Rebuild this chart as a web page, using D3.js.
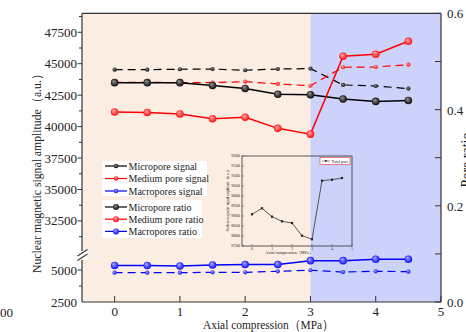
<!DOCTYPE html>
<html><head><meta charset="utf-8">
<script src="https://cdn.jsdelivr.net/npm/d3@7"></script>
<style>
html,body{margin:0;padding:0;background:#fff;}
svg{display:block;}
text{font-family:"Liberation Serif","Times New Roman",serif;fill:#222;}
</style></head>
<body>
<svg id="c" width="466" height="332"></svg>
<script>
// ---- data ----
const pressure = [0, 0.5, 1, 1.5, 2, 2.5, 3, 3.5, 4, 4.5];
const microSignal  = [44530, 44530, 44560, 44580, 44480, 44580, 44610, 43310, 43230, 43020];
const mediumSignal = [43520, 43520, 43500, 43500, 43570, 43390, 43250, 44720, 44740, 44920];
const macroSignal  = [4790, 4790, 4790, 4820, 4820, 4900, 4980, 4840, 4900, 4870];
const microRatio  = [0.456, 0.456, 0.456, 0.450, 0.444, 0.432, 0.431, 0.422, 0.417, 0.419];
const mediumRatio = [0.395, 0.394, 0.391, 0.381, 0.384, 0.361, 0.349, 0.511, 0.515, 0.542];
const macroRatio  = [0.076, 0.076, 0.075, 0.077, 0.078, 0.078, 0.086, 0.086, 0.089, 0.089];
const totalPore   = [89085, 89385, 88965, 88735, 88650, 88015, 87835, 90765, 90815, 90900];
const xTicks = [0, 1, 2, 3, 4, 5];
const upperTicks = [32500, 35000, 37500, 40000, 42500, 45000, 47500];
const upperMinor = [31250, 33750, 36250, 38750, 41250, 43750, 46250, 48750];
const lowerTicks = [2500, 5000];
const lowerMinor = [3750];
const ratioTicks = [0.0, 0.2, 0.4, 0.6];
const ratioMinor = [0.1, 0.3, 0.5];
const insetYTicks = [87500, 88000, 88500, 89000, 89500, 90000, 90500, 91000, 91500, 92000];
const legendSignal = ["Micropore signal", "Medium pore signal", "Macropores signal"];
const legendRatio = ["Micropore ratio", "Medium pore ratio", "Macropores ratio"];
const colors = ["#000000", "#ff0000", "#0000ff"];

// ---- scales ----
const svg = d3.select("#c");
const L = 82, R = 441, T = 13.4, B = 302;
const x = d3.scaleLinear().domain([-0.5, 5]).range([L, R]);
const yR = d3.scaleLinear().domain([0, 0.6]).range([B, T]);
const yU = d3.scaleLinear().domain([30000, 49000]).range([252.4, T]);
const yL = d3.scaleLinear().domain([2500, 6000]).range([B, 257.2]);
const ySig = v => v > 20000 ? yU(v) : yL(v);

// gradients for sphere markers
const defs = svg.append("defs");
const light = ["#9a9a9a", "#ffb3b3", "#b3b3ff"];
colors.forEach((c, i) => {
  const g = defs.append("radialGradient").attr("id", "sph" + i)
    .attr("cx", "50%").attr("cy", "50%").attr("r", "55%").attr("fx", "35%").attr("fy", "30%");
  g.append("stop").attr("offset", "0%").attr("stop-color", light[i]);
  g.append("stop").attr("offset", "100%").attr("stop-color", c);
});

// backgrounds
svg.append("rect").attr("x", x(-0.5)).attr("y", T).attr("width", x(3) - x(-0.5)).attr("height", B - T).attr("fill", "#fcede3");
svg.append("rect").attr("x", x(3)).attr("y", T).attr("width", x(5) - x(3)).attr("height", B - T).attr("fill", "#ccd2f9");

// ---- series ----
const pts = arr => arr.map((v, i) => [pressure[i], v]);
const sigLine = d3.line().x(d => x(d[0])).y(d => ySig(d[1]));
const ratLine = d3.line().x(d => x(d[0])).y(d => yR(d[1]));

[microSignal, mediumSignal, macroSignal].forEach((s, i) => {
  svg.append("path").attr("d", sigLine(pts(s))).attr("fill", "none")
    .attr("stroke", colors[i]).attr("stroke-width", 1.2).attr("stroke-dasharray", "8,5");
  svg.selectAll(null).data(pts(s)).enter().append("circle")
    .attr("cx", d => x(d[0])).attr("cy", d => ySig(d[1])).attr("r", 2.1)
    .attr("fill", "url(#sph" + i + ")");
});
[microRatio, mediumRatio, macroRatio].forEach((s, i) => {
  svg.append("path").attr("d", ratLine(pts(s))).attr("fill", "none")
    .attr("stroke", colors[i]).attr("stroke-width", 1.5);
  svg.selectAll(null).data(pts(s)).enter().append("circle")
    .attr("cx", d => x(d[0])).attr("cy", d => yR(d[1])).attr("r", 3.8)
    .attr("fill", "url(#sph" + i + ")");
});

// ---- frame & axes ----
const ax = "#333";
svg.append("line").attr("x1", L).attr("x2", R).attr("y1", T).attr("y2", T).attr("stroke", ax).attr("stroke-width", 1.2);
svg.append("line").attr("x1", L).attr("x2", R).attr("y1", B).attr("y2", B).attr("stroke", ax).attr("stroke-width", 1.2);
svg.append("line").attr("x1", R).attr("x2", R).attr("y1", T).attr("y2", B).attr("stroke", ax).attr("stroke-width", 1.2);
svg.append("line").attr("x1", L).attr("x2", L).attr("y1", T).attr("y2", 251).attr("stroke", ax).attr("stroke-width", 1.2);
svg.append("line").attr("x1", L).attr("x2", L).attr("y1", 260).attr("y2", B).attr("stroke", ax).attr("stroke-width", 1.2);
// break marks
svg.append("rect").attr("x", 77).attr("y", 251).attr("width", 11).attr("height", 9).attr("fill", "#fff");
svg.append("line").attr("x1", 77.5).attr("y1", 256).attr("x2", 87.5).attr("y2", 249.5).attr("stroke", ax).attr("stroke-width", 1.1);
svg.append("line").attr("x1", 77.5).attr("y1", 260.5).attr("x2", 87.5).attr("y2", 254).attr("stroke", ax).attr("stroke-width", 1.1);

// left axis ticks (outward)
const leftTick = (vals, sc, len) => vals.forEach(v => {
  svg.append("line").attr("x1", L - len).attr("x2", L).attr("y1", sc(v)).attr("y2", sc(v)).attr("stroke", ax).attr("stroke-width", 1);
});
leftTick(upperTicks, yU, 4.5); leftTick(upperMinor.filter(v => v <= 49000), yU, 3);
leftTick(lowerTicks.filter(v => v > 2500), yL, 4.5); leftTick(lowerMinor, yL, 3);
const leftLab = (vals, sc) => vals.forEach(v => {
  svg.append("text").attr("x", 77).attr("y", sc(v) + 4.5).attr("text-anchor", "end")
    .attr("font-size", 13).text(v);
});
leftLab(upperTicks, yU); leftLab(lowerTicks, yL);

// bottom axis ticks (inward)
xTicks.forEach(v => {
  svg.append("line").attr("x1", x(v)).attr("x2", x(v)).attr("y1", B - 6).attr("y2", B).attr("stroke", ax).attr("stroke-width", 1);
  svg.append("text").attr("x", x(v)).attr("y", 315.5).attr("text-anchor", "middle").attr("font-size", 13).text(v);
});

// right axis (ticks inward)
ratioTicks.concat(ratioMinor).forEach(v => {
  svg.append("line").attr("x1", R - 6).attr("x2", R).attr("y1", yR(v)).attr("y2", yR(v)).attr("stroke", ax).attr("stroke-width", 1);
});
ratioTicks.forEach(v => {
  svg.append("text").attr("x", 447).attr("y", yR(v) + 5).attr("font-size", 13).text(v.toFixed(1));
});

// titles
svg.append("text").attr("transform", "translate(41,170.5) rotate(-90)").attr("text-anchor", "middle")
  .attr("font-size", 12.5).attr("textLength", 205).attr("lengthAdjust", "spacingAndGlyphs")
  .text("Nuclear magnetic signal amplitude（a.u.）");
svg.append("text").attr("x", 268.5).attr("y", 329).attr("text-anchor", "middle")
  .attr("font-size", 12.5).attr("textLength", 131).attr("lengthAdjust", "spacingAndGlyphs")
  .text("Axial compression（MPa）");
svg.append("text").attr("transform", "translate(471,160) rotate(-90)").attr("text-anchor", "middle")
  .attr("font-size", 14).text("Pore ratio");
svg.append("text").attr("x", 0).attr("y", 317).attr("font-size", 13).text("00");

// ---- legend ----
svg.append("rect").attr("x", 102).attr("y", 161).attr("width", 105).attr("height", 35).attr("fill", "#fff");
svg.append("rect").attr("x", 102).attr("y", 200).attr("width", 100).attr("height", 38).attr("fill", "#fff");
legendSignal.forEach((t, i) => {
  const yy = 166 + i * 12.5;
  svg.append("line").attr("x1", 105).attr("x2", 127).attr("y1", yy).attr("y2", yy).attr("stroke", colors[i]).attr("stroke-width", 1.2);
  svg.append("circle").attr("cx", 116).attr("cy", yy).attr("r", 2.3).attr("fill", "url(#sph" + i + ")");
  svg.append("text").attr("x", 128.5).attr("y", yy + 3.5).attr("font-size", 10).text(t);
});
legendRatio.forEach((t, i) => {
  const yy = 207 + i * 12.2;
  svg.append("line").attr("x1", 105).attr("x2", 127).attr("y1", yy).attr("y2", yy).attr("stroke", colors[i]).attr("stroke-width", 1.2);
  svg.append("circle").attr("cx", 116).attr("cy", yy).attr("r", 3).attr("fill", "url(#sph" + i + ")");
  svg.append("text").attr("x", 128.5).attr("y", yy + 3.5).attr("font-size", 10).text(t);
});

// ---- inset ----
const iL = 242, iR = 352, iT = 156, iB = 246;
const ix = d3.scaleLinear().domain([-0.5, 5]).range([iL, iR]);
const iy = d3.scaleLinear().domain([87500, 92000]).range([iB, iT]);
svg.append("rect").attr("x", iL).attr("y", iT).attr("width", iR - iL).attr("height", iB - iT)
  .attr("fill", "none").attr("stroke", "#333").attr("stroke-width", 0.8);
insetYTicks.forEach(v => {
  svg.append("line").attr("x1", iL).attr("x2", iL + 2).attr("y1", iy(v)).attr("y2", iy(v)).attr("stroke", "#333").attr("stroke-width", 0.5);
  svg.append("text").attr("x", iL - 2).attr("y", iy(v) + 1.2).attr("text-anchor", "end").attr("font-size", 3.5).attr("fill", "#555").text(v);
});
xTicks.forEach(v => {
  svg.append("line").attr("x1", ix(v)).attr("x2", ix(v)).attr("y1", iB - 2).attr("y2", iB).attr("stroke", "#333").attr("stroke-width", 0.5);
  svg.append("text").attr("x", ix(v)).attr("y", iB + 4).attr("text-anchor", "middle").attr("font-size", 3.5).attr("fill", "#555").text(v);
});
svg.append("text").attr("x", 289).attr("y", 254).attr("text-anchor", "middle").attr("font-size", 4.2).attr("fill", "#444")
  .text("Axial compression（MPa）");
svg.append("text").attr("transform", "translate(229,200) rotate(-90)").attr("text-anchor", "middle").attr("font-size", 3.6).attr("fill", "#555")
  .text("Nuclear magnetic signal amplitude（a.u.）");
const iLine = d3.line().x(d => ix(d[0])).y(d => iy(d[1]));
svg.append("path").attr("d", iLine(pts(totalPore))).attr("fill", "none").attr("stroke", "#333").attr("stroke-width", 0.8);
svg.selectAll(null).data(pts(totalPore)).enter().append("rect")
  .attr("x", d => ix(d[0]) - 1.1).attr("y", d => iy(d[1]) - 1.1).attr("width", 2.2).attr("height", 2.2).attr("fill", "#222");
svg.append("rect").attr("x", 320).attr("y", 157.5).attr("width", 30).attr("height", 7).attr("fill", "#fff").attr("stroke", "#e05050").attr("stroke-width", 0.7);
svg.append("line").attr("x1", 322).attr("x2", 330).attr("y1", 161).attr("y2", 161).attr("stroke", "#333").attr("stroke-width", 0.6);
svg.append("rect").attr("x", 325).attr("y", 160).attr("width", 1.6).attr("height", 1.6).attr("fill", "#222");
svg.append("text").attr("x", 331.5).attr("y", 162.5).attr("font-size", 4.2).attr("fill", "#444").text("Total pore");
</script>
</body></html>
